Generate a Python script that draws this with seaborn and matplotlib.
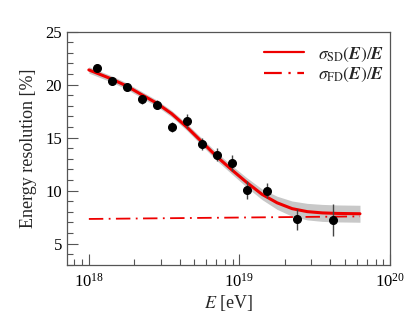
"""Energy resolution vs energy: SD fit with band and FD reference."""

import matplotlib
matplotlib.use("Agg")
import matplotlib.pyplot as plt
import numpy as np
import pandas as pd
import seaborn as sns
from matplotlib.ticker import LogLocator, MultipleLocator, NullFormatter

# measured points
energy_pts = [1.13e18, 1.42e18, 1.78e18, 2.24e18, 2.82e18, 3.55e18, 4.47e18,
              5.62e18, 7.08e18, 8.91e18, 1.12e19, 1.53e19, 2.42e19, 4.2e19]
resolution_pts = [21.55, 20.35, 19.8, 18.6, 18.1, 16.0, 16.55,
                  14.4, 13.4, 12.6, 10.1, 10.0, 7.3, 7.2]
resolution_err = [0.4, 0.35, 0.35, 0.4, 0.4, 0.5, 0.65,
                  0.6, 0.6, 0.75, 0.85, 0.7, 1.0, 1.5]

# SD fit curve and its uncertainty band
fit_log_e = [18.0, 18.15, 18.25, 18.35, 18.45, 18.55, 18.65, 18.75, 18.85,
             18.95, 19.05, 19.15, 19.25, 19.35, 19.45, 19.55, 19.65, 19.8]
fit_sd = [21.38, 20.53, 19.87, 19.05, 18.25, 17.25, 16.0, 14.6, 13.2,
          11.95, 10.75, 9.65, 8.85, 8.3, 8.02, 7.9, 7.85, 7.82]
fit_band = [0.3, 0.3, 0.3, 0.3, 0.3, 0.3, 0.32, 0.35, 0.38,
            0.4, 0.45, 0.5, 0.62, 0.72, 0.78, 0.8, 0.8, 0.8]

# FD resolution
fd_log_e = [18.0, 19.8]
fd_res = [7.33, 7.57]


def main() -> None:
    sns.set_theme(style="ticks")
    plt.rcParams["font.family"] = ["Liberation Serif", "DejaVu Serif"]
    plt.rcParams["mathtext.fontset"] = "stix"

    fit = pd.DataFrame({"E": np.power(10.0, fit_log_e), "sd": fit_sd, "band": fit_band})
    fd = pd.DataFrame({"E": np.power(10.0, fd_log_e), "fd": fd_res})

    fig = plt.figure(figsize=(4.15, 3.12), dpi=100)
    ax = fig.add_axes([0.161, 0.151, 0.779, 0.748])

    ax.fill_between(fit["E"], fit["sd"] - fit["band"], fit["sd"] + fit["band"],
                    color="#c8c8c8", lw=0, zorder=1)
    sns.lineplot(data=fit, x="E", y="sd", ax=ax, color="#ee0000", lw=2.2,
                 label=r"$\sigma_{\rm SD}(\mathbfit{E})/\mathbfit{E}$", zorder=3)
    sns.lineplot(data=fd, x="E", y="fd", ax=ax, color="#ee0000", lw=1.3,
                 ls=(0, (8, 3, 1, 3)),
                 label=r"$\sigma_{\rm FD}(\mathbfit{E})/\mathbfit{E}$", zorder=3)
    ax.errorbar(energy_pts, resolution_pts, yerr=resolution_err, fmt="o",
                color="black", ms=5.5, ecolor="#444444", elinewidth=1.0,
                capsize=0, zorder=4)

    ax.set_xscale("log")
    ax.set_xlim(7.14e17, 1e20)
    ax.set_ylim(3.0, 25)
    ax.yaxis.set_major_locator(MultipleLocator(5))
    ax.yaxis.set_minor_locator(MultipleLocator(1))
    ax.xaxis.set_major_locator(LogLocator(base=10, numticks=10))
    ax.xaxis.set_minor_locator(LogLocator(base=10, subs=np.arange(2, 10), numticks=20))
    ax.xaxis.set_minor_formatter(NullFormatter())

    ax.tick_params(which="both", direction="in", colors="#555555",
                   labelcolor="black", labelsize=12, top=False, right=False)
    ax.tick_params(which="major", length=8, width=0.8)
    ax.tick_params(which="minor", length=4, width=0.8)
    ax.tick_params(axis="x", which="major", pad=6)
    for side in ax.spines.values():
        side.set_color("#555555")
        side.set_linewidth(0.9)

    ax.set_xlabel(r"$\mathit{E}$ [eV]", fontsize=13, labelpad=1)
    ax.set_ylabel("Energy resolution [%]", fontsize=13, labelpad=6)

    leg = ax.legend(loc="upper right", bbox_to_anchor=(1.025, 1.0), frameon=False,
                    fontsize=12.5, handlelength=2.3, borderaxespad=0.3,
                    labelspacing=0.15, borderpad=0.5)
    for line in leg.get_lines():
        line.set_linewidth(1.6)

    fig.savefig("out.png", dpi=100)
    plt.close(fig)


if __name__ == "__main__":
    main()
